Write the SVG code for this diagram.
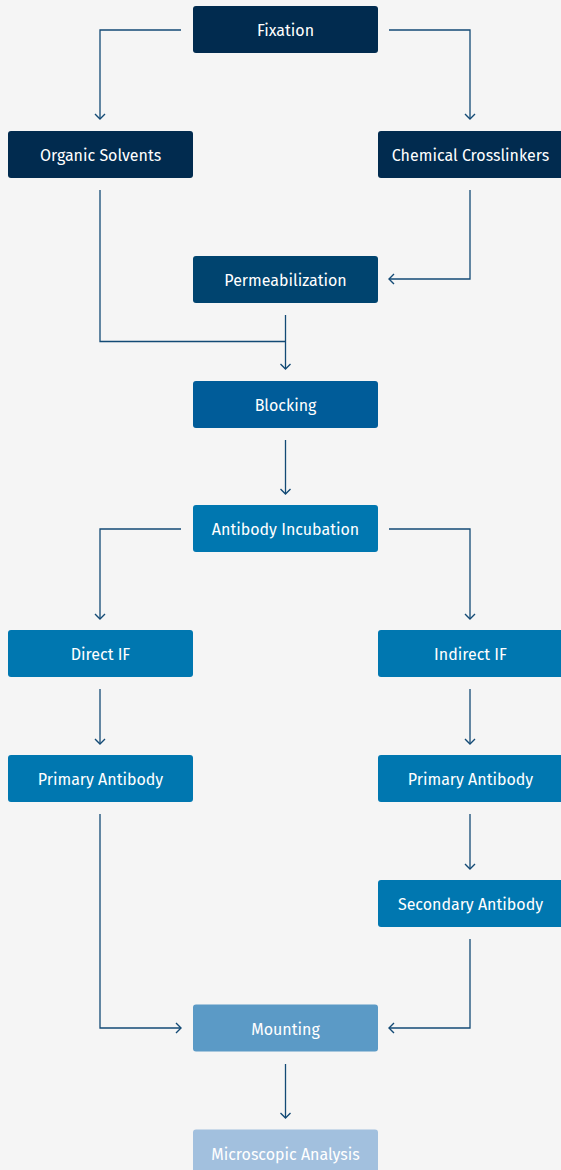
<svg xmlns="http://www.w3.org/2000/svg" width="561" height="1170" viewBox="0 0 561 1170">
<style>
.n text{font-family:"Fira Sans","Open Sans","Noto Sans",sans-serif;font-size:16px;font-weight:400;fill:#ffffff;text-anchor:middle;dominant-baseline:central}
.c path{fill:none;stroke:#134a75;stroke-width:1.3}
.d1 rect{fill:#012b4f}
.d2 rect{fill:#00446f}
.d3 rect{fill:#005c99}
.d4 rect{fill:#0077b0}
.d5 rect{fill:#5b9ac6}
.d6 rect{fill:#a2c0de}
</style>
<defs>
<marker id="ah" markerWidth="12" markerHeight="12" refX="6" refY="6" orient="auto" markerUnits="userSpaceOnUse">
<path d="M1,1 L6,6 L1,11" fill="none" stroke="#134a75" stroke-width="1.4"/>
</marker>
</defs>
<rect width="561" height="1170" fill="#f5f5f5"/>
<g class="c">
<path d="M181,30 H100 V119" marker-end="url(#ah)"/>
<path d="M389,30 H470 V119" marker-end="url(#ah)"/>
<path d="M470,190 V279 H389" marker-end="url(#ah)"/>
<path d="M100,190 V341.5 H285.5" />
<path d="M285.5,315 V369" marker-end="url(#ah)"/>
<path d="M285.5,440 V494" marker-end="url(#ah)"/>
<path d="M181,529 H100 V619" marker-end="url(#ah)"/>
<path d="M389,529 H470 V619" marker-end="url(#ah)"/>
<path d="M100,689 V744" marker-end="url(#ah)"/>
<path d="M470,689 V744" marker-end="url(#ah)"/>
<path d="M470,814 V869" marker-end="url(#ah)"/>
<path d="M100,814 V1028 H181" marker-end="url(#ah)"/>
<path d="M470,939 V1028 H389" marker-end="url(#ah)"/>
<path d="M285.5,1064 V1118" marker-end="url(#ah)"/>
</g>
<g id="fixation" class="n d1"><rect x="193" y="6" width="185" height="47" rx="3"/><text x="285.5" y="30.5">Fixation</text></g>
<g id="organic" class="n d1"><rect x="8" y="131" width="185" height="47" rx="3"/><text x="100.5" y="155.5">Organic Solvents</text></g>
<g id="chemical" class="n d1"><rect x="378" y="131" width="185" height="47" rx="3"/><text x="470.5" y="155.5">Chemical Crosslinkers</text></g>
<g id="permeabilization" class="n d2"><rect x="193" y="256" width="185" height="47" rx="3"/><text x="285.5" y="280.5">Permeabilization</text></g>
<g id="blocking" class="n d3"><rect x="193" y="381" width="185" height="47" rx="3"/><text x="285.5" y="405.5">Blocking</text></g>
<g id="antibody-incubation" class="n d4"><rect x="193" y="505" width="185" height="47" rx="3"/><text x="285.5" y="529.5">Antibody Incubation</text></g>
<g id="direct-if" class="n d4"><rect x="8" y="630" width="185" height="47" rx="3"/><text x="100.5" y="654.5">Direct IF</text></g>
<g id="indirect-if" class="n d4"><rect x="378" y="630" width="185" height="47" rx="3"/><text x="470.5" y="654.5">Indirect IF</text></g>
<g id="primary-left" class="n d4"><rect x="8" y="755" width="185" height="47" rx="3"/><text x="100.5" y="779.5">Primary Antibody</text></g>
<g id="primary-right" class="n d4"><rect x="378" y="755" width="185" height="47" rx="3"/><text x="470.5" y="779.5">Primary Antibody</text></g>
<g id="secondary" class="n d4"><rect x="378" y="880" width="185" height="47" rx="3"/><text x="470.5" y="904.5">Secondary Antibody</text></g>
<g id="mounting" class="n d5"><rect x="193" y="1004.5" width="185" height="47" rx="3"/><text x="285.5" y="1029">Mounting</text></g>
<g id="microscopic" class="n d6"><rect x="193" y="1129.5" width="185" height="47" rx="3"/><text x="285.5" y="1154">Microscopic Analysis</text></g>
</svg>
